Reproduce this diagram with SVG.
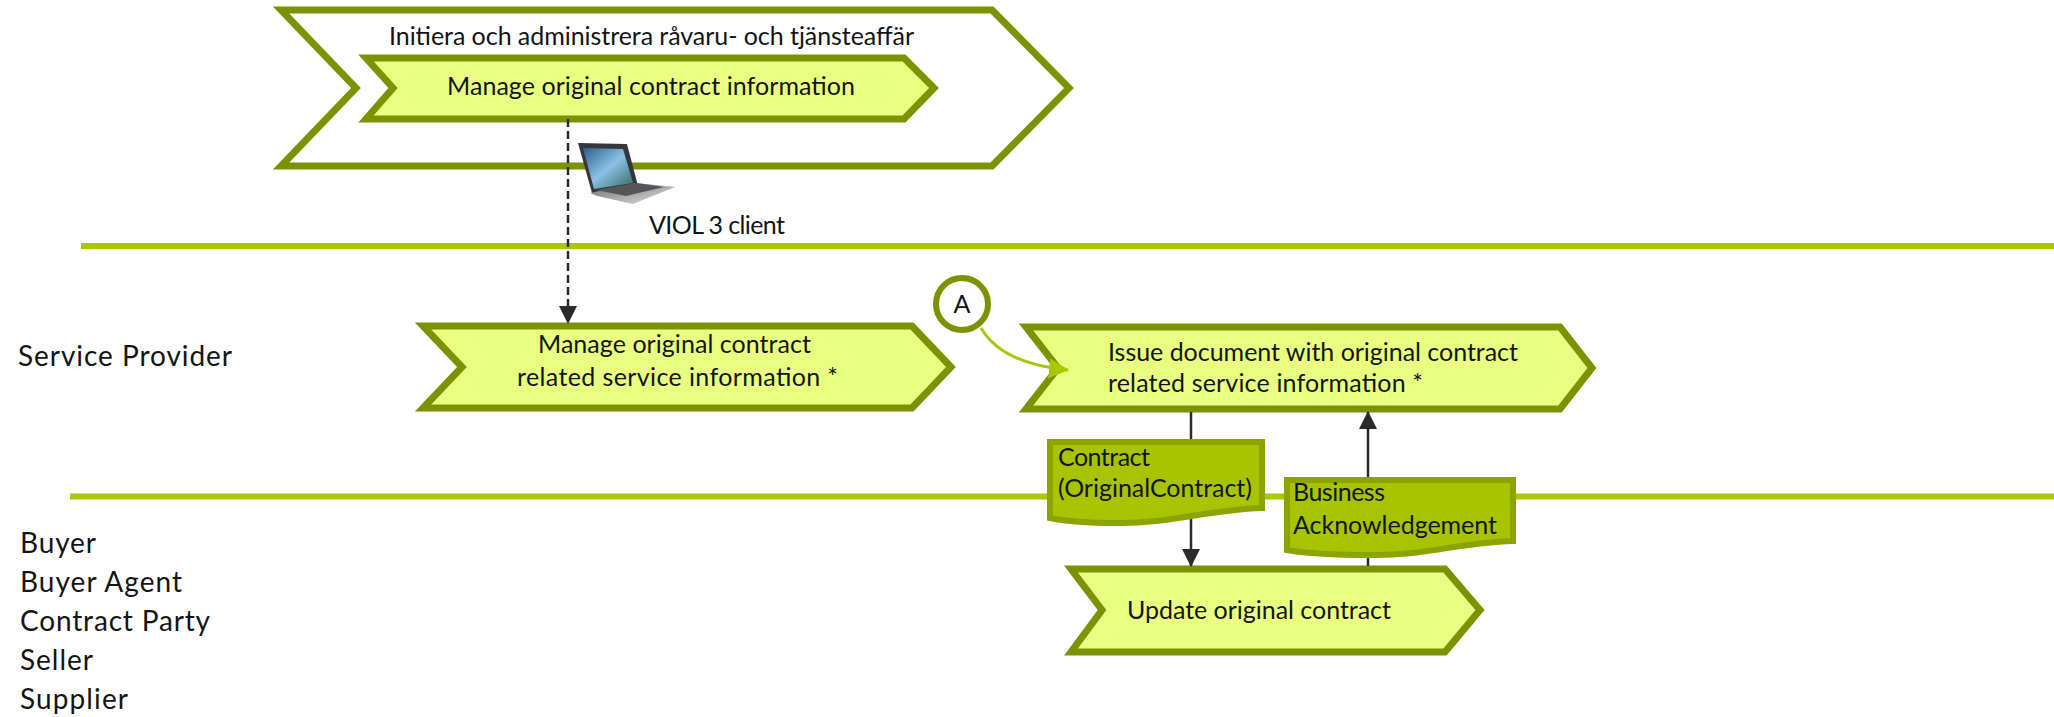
<svg xmlns="http://www.w3.org/2000/svg" width="2054" height="717" viewBox="0 0 2054 717">
<style>
text{font-family:Lato,"Liberation Sans",sans-serif;font-size:25px;fill:#141414}
.role{font-size:28px}
.lane{stroke:#a8c800;stroke-width:6;fill:none}
.step{fill:#e8ff80;stroke:#7d9200;stroke-width:7}
.outer{fill:#fff;stroke:#7d9200;stroke-width:7}
.doc{fill:#a8c400;stroke:#8ba400;stroke-width:6}
.flow{stroke:#2b2b2b;stroke-width:2.5;fill:none}
</style>
<defs>
<marker id="ah" markerUnits="userSpaceOnUse" markerWidth="18" markerHeight="20" refX="17" refY="9" orient="auto"><path d="M0 0L18 9L0 18Z" fill="#2b2b2b"/></marker>
<marker id="ag" markerUnits="userSpaceOnUse" markerWidth="20" markerHeight="22" refX="19" refY="10" orient="auto"><path d="M0 0L20 10L0 20Z" fill="#a8c800"/></marker>
<linearGradient id="scr" x1="0" y1="0" x2="1" y2="1"><stop offset="0" stop-color="#2a5f8e"/><stop offset=".5" stop-color="#8cc0e4"/><stop offset="1" stop-color="#2f6a62"/></linearGradient>
<linearGradient id="base" x1="0" y1="0" x2="1" y2="1"><stop offset="0" stop-color="#6e6e6e"/><stop offset="1" stop-color="#e2e2e2"/></linearGradient>
</defs>
<g id="lanes">
<line class="lane" x1="81" y1="246" x2="2054" y2="246"/>
<line class="lane" x1="70" y1="496.500" x2="2054" y2="496.500"/>
</g>
<g id="node-outer">
<polygon class="outer" points="281,10 992,10 1069,88 992,166 281,166 356,88"/>
<text x="389" y="45" textLength="525">Initiera och administrera råvaru- och tjänsteaffär</text>
</g>
<g id="node-manage-info">
<polygon class="step" points="366,58 904,58 934,88 904,119 366,119 393,88"/>
<text x="447" y="95" textLength="408">Manage original contract information</text>
</g>
<g id="laptop">
<polygon points="578,143 627,144 638,186 592,193" fill="#35373b"/>
<polygon points="583,148 623,149 633,183 594,189" fill="url(#scr)"/>
<polygon points="590,193 636,183 675,187 633,204 597,196" fill="url(#base)"/>
<polygon points="596,190 636,183 664,187 626,196" fill="#55555a"/>
</g>
<g id="label-client"><text x="649" y="234" textLength="136">VIOL 3 client</text></g>
<g id="node-manage-service">
<polygon class="step" points="423,326 912,326 951,367 912,408 423,408 462,367"/>
<text x="538" y="353" textLength="273">Manage original contract</text>
<text x="517" y="386" textLength="321">related service information *</text>
</g>
<g id="node-issue">
<polygon class="step" points="1026,327 1560,327 1592,368 1560,409 1026,409 1058,368"/>
<text x="1108" y="361" textLength="410">Issue document with original contract</text>
<text x="1108" y="392" textLength="315">related service information *</text>
</g>
<g id="node-update">
<polygon class="step" points="1071,569 1445,569 1480,610 1445,652 1071,652 1102,610"/>
<text x="1127" y="619" textLength="264">Update original contract</text>
</g>
<g id="node-a">
<circle cx="962" cy="304" r="26" fill="#fff" stroke="#7d9200" stroke-width="6"/>
<text x="962" y="313" text-anchor="middle">A</text>
</g>
<g id="connectors">
<line class="flow" x1="568" y1="119" x2="568" y2="323" stroke-dasharray="8 4" marker-end="url(#ah)"/>
<path d="M981 328C995 352 1025 366 1068 370" fill="none" stroke="#a8c800" stroke-width="3" marker-end="url(#ag)"/>
<line class="flow" x1="1191" y1="412" x2="1191" y2="566" marker-end="url(#ah)"/>
<line class="flow" x1="1368" y1="566" x2="1368" y2="412" marker-end="url(#ah)"/>
</g>
<g id="doc-contract">
<path class="doc" d="M1050 442H1262V508C1205 510 1170 524 1115 523C1090 523 1070 522 1050 518Z"/>
<text x="1058" y="466" textLength="92">Contract</text>
<text x="1058" y="497" textLength="194">(OriginalContract)</text>
</g>
<g id="doc-business">
<path class="doc" d="M1287 480H1513V541C1455 543 1425 556 1370 555C1340 555 1310 554 1287 550Z"/>
<text x="1293" y="501" textLength="92">Business</text>
<text x="1293" y="534" textLength="204">Acknowledgement</text>
</g>
<g id="roles">
<text class="role" x="18" y="366" textLength="214">Service Provider</text>
<text class="role" x="20" y="553" textLength="76">Buyer</text>
<text class="role" x="20" y="592" textLength="162">Buyer Agent</text>
<text class="role" x="20" y="631" textLength="190">Contract Party</text>
<text class="role" x="20" y="670" textLength="73">Seller</text>
<text class="role" x="20" y="709" textLength="108">Supplier</text>
</g>
</svg>
